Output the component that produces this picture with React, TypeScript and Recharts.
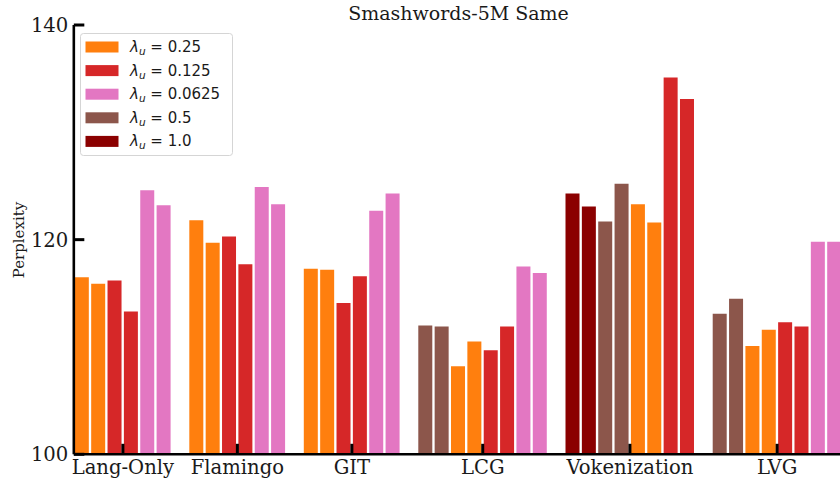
import React from 'react';
import { BarChart, Bar, XAxis, YAxis, Cell } from 'recharts';

const models = ['Lang-Only', 'Flamingo', 'GIT', 'LCG', 'Vokenization', 'LVG'];
const slotOrder = ['1.0', '0.5', '0.25', '0.125', '0.0625'];
const legendOrder = ['0.25', '0.125', '0.0625', '0.5', '1.0'];
const colors: Record<string, string> = {
  '0.25': '#ff7f0e',
  '0.125': '#d62728',
  '0.0625': '#e377c2',
  '0.5': '#8c564b',
  '1.0': '#8b0000',
};

// two runs per model, null when absent
const lambda1_0: (number[] | null)[] = [null, null, null, null, [124.3, 123.1], null];
const lambda0_5: (number[] | null)[] = [null, null, null, [112.0, 111.9], [121.7, 125.2], [113.1, 114.5]];
const lambda0_25: (number[] | null)[] = [[116.5, 115.9], [121.8, 119.7], [117.3, 117.2], [108.2, 110.5], [123.3, 121.6], [110.1, 111.6]];
const lambda0_125: (number[] | null)[] = [[116.2, 113.3], [120.3, 117.7], [114.1, 116.6], [109.7, 111.9], [135.1, 133.1], [112.3, 111.9]];
const lambda0_0625: (number[] | null)[] = [[124.6, 123.2], [124.9, 123.3], [122.7, 124.3], [117.5, 116.9], null, [119.8, 119.8]];

const seriesByLambda: Record<string, (number[] | null)[]> = {
  '1.0': lambda1_0,
  '0.5': lambda0_5,
  '0.25': lambda0_25,
  '0.125': lambda0_125,
  '0.0625': lambda0_0625,
};

const yTicks = [100, 120, 140];
const yDomain: [number, number] = [100, 140];

type Slot = { slot: string; idx: number; value: number | null; lambda: string | null };
const slots: Slot[] = [];
const modelCenters: number[] = [];
models.forEach((m, mi) => {
  if (mi > 0) slots.push({ slot: `gap${mi}`, idx: slots.length, value: null, lambda: null });
  const start = slots.length;
  slotOrder.forEach((l) => {
    const v = seriesByLambda[l][mi];
    if (v) v.forEach((val, k) => slots.push({ slot: `${m}-${l}-${k}`, idx: slots.length, value: val, lambda: l }));
  });
  modelCenters.push((start + slots.length - 1) / 2);
});

const PITCH = 16.356;
const LEFT = 73.82;
const CHART_W = 860;
const CHART_H = 483;
const plotW = slots.length * PITCH;
const rightMargin = CHART_W - LEFT - plotW;

const XTick = (props: any) => {
  const { x, y, index } = props;
  return (
    <g>
      <line x1={x} x2={x} y1={y} y2={y - 10.5} stroke="#000" strokeWidth={3} />
      <text x={x} y={y + 19.5} textAnchor="middle" fontFamily="DejaVu Serif" fontSize={19.6} fill="#1a1a1a">
        {models[index]}
      </text>
    </g>
  );
};

const YTick = (props: any) => {
  const { x, y, payload } = props;
  return (
    <g>
      <line x1={x + 5.5} x2={x + 16} y1={y} y2={y} stroke="#000" strokeWidth={3} />
      <text x={x} y={y} dy="0.36em" textAnchor="end" fontFamily="DejaVu Serif" fontSize={19.6} fill="#1a1a1a">
        {payload.value}
      </text>
    </g>
  );
};

export default function App() {
  return (
    <div style={{ position: 'absolute', left: 0, top: 0, width: 840, height: 483, overflow: 'hidden', background: '#fff' }}>
      <BarChart
        width={CHART_W}
        height={CHART_H}
        data={slots}
        margin={{ top: 25, right: rightMargin, bottom: 0, left: 0 }}
      >
        <Bar dataKey="value" xAxisId="slot" barSize={14} isAnimationActive={false}>
          {slots.map((s, i) => (
            <Cell key={i} fill={s.lambda ? colors[s.lambda] : 'none'} />
          ))}
        </Bar>
        <XAxis xAxisId="slot" dataKey="slot" type="category" hide />
        <XAxis
          xAxisId="lab"
          dataKey="idx"
          type="number"
          domain={[-0.5, slots.length - 0.5]}
          ticks={modelCenters}
          interval={0}
          allowDataOverflow
          height={28.7}
          tickSize={0}
          tickMargin={0}
          tickLine={false}
          axisLine={{ stroke: '#000', strokeWidth: 2.6 }}
          tick={<XTick />}
        />
        <YAxis
          type="number"
          domain={yDomain}
          ticks={yTicks}
          width={LEFT}
          interval={0}
          tickSize={0}
          tickMargin={5.5}
          tickLine={false}
          axisLine={{ stroke: '#000', strokeWidth: 2.6 }}
          tick={<YTick />}
        />
      </BarChart>
      <svg width={840} height={483} style={{ position: 'absolute', left: 0, top: 0, pointerEvents: 'none' }}>
        <text x={458.5} y={20} textAnchor="middle" fontFamily="DejaVu Serif" fontSize={19} fill="#1a1a1a">
          Smashwords-5M Same
        </text>
        <text
          x={24}
          y={240}
          transform="rotate(-90 24 240)"
          textAnchor="middle"
          fontFamily="DejaVu Serif"
          fontSize={15}
          fill="#1a1a1a"
        >
          Perplexity
        </text>
        <rect x={80.5} y={33.5} width={152} height={122} rx={3} fill="rgba(255,255,255,0.85)" stroke="#d5d5d5" strokeWidth={1} />
        {legendOrder.map((l, i) => {
          const cy = 47 + i * 23.6;
          return (
            <g key={l}>
              <rect x={85.5} y={cy - 5.5} width={33} height={11} fill={colors[l]} />
              <text x={130} y={cy + 5} fontFamily="DejaVu Sans" fontSize={15} fill="#1a1a1a">
                <tspan fontStyle="italic">λ</tspan>
                <tspan fontStyle="italic" fontSize={10.5} dy={3}>u</tspan>
                <tspan dy={-3}>{'\u00a0= ' + l}</tspan>
              </text>
            </g>
          );
        })}
      </svg>
    </div>
  );
}
